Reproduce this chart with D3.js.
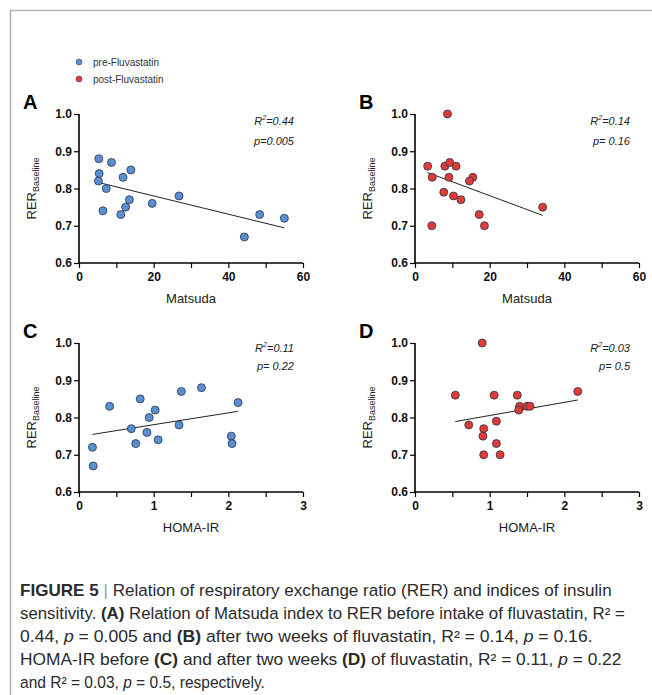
<!DOCTYPE html>
<html>
<head>
<meta charset="utf-8">
<script src="https://cdn.jsdelivr.net/npm/d3@7"></script>
<style>
  body { margin: 0; background: #fff; }
  text { font-family: "Liberation Sans", Arial, sans-serif; }
</style>
</head>
<body>
<div class="container"></div>
<script>
////////////////////////////////////////////////////////////////
// DATA
////////////////////////////////////////////////////////////////
var matsudaPre  = [5.3, 8.7, 5.4, 13.9, 11.8, 5.2, 7.3, 13.5, 12.5, 6.4, 11.2, 19.6, 26.8, 48.4, 55.0, 44.3];
var rerPreM     = [0.88, 0.87, 0.84, 0.85, 0.83, 0.82, 0.80, 0.77, 0.75, 0.74, 0.73, 0.76, 0.78, 0.73, 0.72, 0.67];

var matsudaPost = [8.7, 3.4, 8.0, 9.3, 11.0, 4.6, 9.1, 15.5, 14.6, 7.7, 10.3, 12.3, 17.2, 34.2, 4.5, 18.6];
var rerPostM    = [1.00, 0.86, 0.86, 0.87, 0.86, 0.83, 0.83, 0.83, 0.82, 0.79, 0.78, 0.77, 0.73, 0.75, 0.70, 0.70];

var homaPre     = [0.18, 0.19, 0.41, 0.82, 1.02, 0.94, 0.70, 0.91, 0.76, 1.06, 1.37, 1.34, 1.64, 2.13, 2.04, 2.05];
var rerPreH     = [0.72, 0.67, 0.83, 0.85, 0.82, 0.80, 0.77, 0.76, 0.73, 0.74, 0.87, 0.78, 0.88, 0.84, 0.75, 0.73];

var homaPost    = [0.90, 0.54, 1.06, 1.37, 2.18, 1.40, 1.50, 1.54, 1.39, 1.09, 0.72, 0.92, 0.91, 1.09, 0.92, 1.14];
var rerPostH    = [1.00, 0.86, 0.86, 0.86, 0.87, 0.83, 0.83, 0.83, 0.82, 0.79, 0.78, 0.77, 0.75, 0.73, 0.70, 0.70];

var panelLetters = ["A", "B", "C", "D"];
var r2Labels     = ["0.44", "0.14", "0.11", "0.03"];
var pLabels      = ["p=0.005", "p= 0.16", "p= 0.22", "p= 0.5"];
var xTitles      = ["Matsuda", "Matsuda", "HOMA-IR", "HOMA-IR"];
var legendLabels = ["pre-Fluvastatin", "post-Fluvastatin"];

var yTicks       = [0.6, 0.7, 0.8, 0.9, 1.0];
var matsudaTicks = [0, 10, 20, 30, 40, 50, 60];
var matsudaLabs  = [0, 20, 40, 60];
var homaTicks    = [0, 0.5, 1, 1.5, 2, 2.5, 3];
var homaLabs     = [0, 1, 2, 3];

var blue = "#5b8fd3", red = "#e23a36";

////////////////////////////////////////////////////////////////
// CREATE STAGE
////////////////////////////////////////////////////////////////
var W = 652, H = 695;
var svg = d3.select(".container").append("svg")
    .attr("width", W).attr("height", H);

// figure frame (top + left edge)
svg.append("path")
   .attr("d", "M10.5," + H + "V10.5H" + W)
   .attr("fill", "none")
   .attr("stroke", "#b3b3b3")
   .attr("stroke-width", 1.5);

// legend
legendLabels.forEach(function(t, i) {
  var y = 62 + i * 17;
  svg.append("circle").attr("cx", 79).attr("cy", y).attr("r", 3)
     .attr("fill", i == 0 ? blue : red)
     .attr("stroke", "#334").attr("stroke-width", 0.5);
  svg.append("text").attr("x", 93).attr("y", y + 3.5)
     .attr("font-size", 10).attr("fill", "#333").text(t);
});

////////////////////////////////////////////////////////////////
// LINEAR FIT
////////////////////////////////////////////////////////////////
function fit(xs, ys) {
  var mx = d3.mean(xs), my = d3.mean(ys), sxy = 0, sxx = 0;
  xs.forEach(function(x, i) { sxy += (x - mx) * (ys[i] - my); sxx += (x - mx) * (x - mx); });
  var b = sxy / sxx;
  return function(x) { return my + b * (x - mx); };
}

////////////////////////////////////////////////////////////////
// DRAW ONE PANEL
////////////////////////////////////////////////////////////////
function drawPanel(k, left, top, xs, ys, xmax, ticks, labs, color) {
  var w = 224, h = 149;
  var x = d3.scaleLinear().domain([0, xmax]).range([left, left + w]);
  var y = d3.scaleLinear().domain([0.6, 1.0]).range([top + h, top]);

  var g = svg.append("g");

  // y axis
  var ya = g.append("g").attr("transform", "translate(" + left + ",0)")
     .call(d3.axisLeft(y).tickValues(yTicks).tickFormat(d3.format(".1f")).tickSize(5).tickPadding(2));
  // x axis
  var xa = g.append("g").attr("transform", "translate(0," + (top + h) + ")")
     .call(d3.axisBottom(x).tickValues(ticks)
       .tickFormat(function(d) { return labs.indexOf(d) >= 0 ? d : ""; })
       .tickSize(5).tickPadding(4));
  [ya, xa].forEach(function(a) {
    a.select(".domain").attr("stroke-width", 1.6).attr("stroke", "#000");
    a.selectAll(".tick line").attr("stroke-width", 1.2).attr("stroke", "#000");
    a.selectAll("text").attr("font-size", 12).attr("font-weight", "bold")
     .attr("fill", "#111").attr("font-family", "Liberation Sans, Arial, sans-serif");
  });
  ya.select(".domain").attr("d", "M0," + (top + h) + "V" + top);
  xa.select(".domain").attr("d", "M" + left + ",0H" + (left + w));

  // fit line
  var f = fit(xs, ys);
  var x0 = d3.min(xs), x1 = d3.max(xs);
  g.append("line")
   .attr("x1", x(x0)).attr("y1", y(f(x0)))
   .attr("x2", x(x1)).attr("y2", y(f(x1)))
   .attr("stroke", "#222").attr("stroke-width", 1);

  // points
  g.selectAll("circle.pt").data(xs).enter().append("circle")
   .attr("class", "pt")
   .attr("cx", function(d) { return x(d); })
   .attr("cy", function(d, i) { return y(ys[i]); })
   .attr("r", 4)
   .attr("fill", color)
   .attr("stroke", "#27344a")
   .attr("stroke-width", 0.8);

  // panel letter
  g.append("text").attr("x", left - 56).attr("y", top - 5)
   .attr("font-size", 20).attr("font-weight", "bold").text(panelLetters[k]);

  // x title
  g.append("text").attr("x", left + w / 2).attr("y", top + h + 40)
   .attr("text-anchor", "middle").attr("font-size", 13).attr("fill", "#222")
   .text(xTitles[k]);

  // y title
  var yt = g.append("text")
   .attr("transform", "translate(" + (left - 43) + "," + (top + h / 2) + ") rotate(-90)")
   .attr("text-anchor", "middle").attr("font-size", 13).attr("fill", "#222");
  yt.append("tspan").text("RER");
  yt.append("tspan").attr("font-size", 9).attr("dy", 3).text("Baseline");

  // stats
  var sy = k < 2 ? [top + 11, top + 31] : [top + 9, top + 27];
  var rt = g.append("text").attr("x", left + w - 9).attr("y", sy[0])
   .attr("text-anchor", "end").attr("font-size", 11).attr("font-style", "italic").attr("fill", "#222");
  rt.append("tspan").text("R");
  rt.append("tspan").attr("font-size", 7).attr("dy", -5).text("2");
  rt.append("tspan").attr("dy", 5).text("=" + r2Labels[k]);
  g.append("text").attr("x", left + w - 9).attr("y", sy[1])
   .attr("text-anchor", "end").attr("font-size", 11).attr("font-style", "italic").attr("fill", "#222")
   .text(pLabels[k]);
}

drawPanel(0, 79, 114, matsudaPre, rerPreM, 60, matsudaTicks, matsudaLabs, blue);
drawPanel(1, 415, 114, matsudaPost, rerPostM, 60, matsudaTicks, matsudaLabs, red);
drawPanel(2, 79, 343, homaPre, rerPreH, 3, homaTicks, homaLabs, blue);
drawPanel(3, 415, 343, homaPost, rerPostH, 3, homaTicks, homaLabs, red);

////////////////////////////////////////////////////////////////
// CAPTION
////////////////////////////////////////////////////////////////
// each line: list of [text, style] runs, plus its right edge
var capLines = [
  [[["FIGURE 5", "b"], [" ", ""], ["|", "bar"], [" Relation of respiratory exchange ratio (RER) and indices of insulin", ""]], 612],
  [[["sensitivity. ", ""], ["(A)", "b"], [" Relation of Matsuda index to RER before intake of fluvastatin, R\u00b2 =", ""]], 625],
  [[["0.44, ", ""], ["p", "i"], [" = 0.005 and ", ""], ["(B)", "b"], [" after two weeks of fluvastatin, R\u00b2 = 0.14, ", ""], ["p", "i"], [" = 0.16.", ""]], 593],
  [[["HOMA-IR before ", ""], ["(C)", "b"], [" and after two weeks ", ""], ["(D)", "b"], [" of fluvastatin, R\u00b2 = 0.11, ", ""], ["p", "i"], [" = 0.22", ""]], 622],
  [[["and R\u00b2 = 0.03, ", ""], ["p", "i"], [" = 0.5, respectively.", ""]], 265]
];

capLines.forEach(function(line, i) {
  var t = svg.append("text").attr("x", 0).attr("y", 0)
    .attr("font-size", 16.5).attr("fill", "#2a2a2a");
  line[0].forEach(function(run) {
    var s = t.append("tspan").text(run[0]);
    if (run[1] == "b") s.attr("font-weight", "bold");
    if (run[1] == "i") s.attr("font-style", "italic");
    if (run[1] == "bar") s.attr("fill", "#999").attr("font-weight", "300");
  });
  // squeeze the line horizontally to the width it has in the figure
  var sx = (line[1] - 20) / t.node().getComputedTextLength();
  t.attr("transform", "translate(20," + (596 + i * 23) + ") scale(" + sx + ",1)");
});
</script>
</body>
</html>
